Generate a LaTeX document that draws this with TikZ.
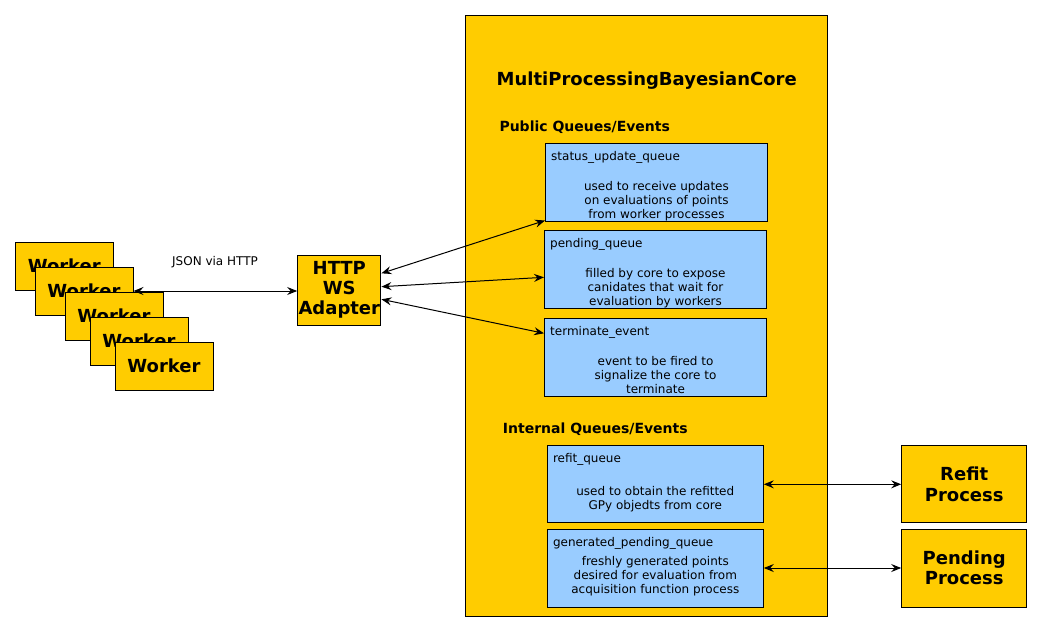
\documentclass[tikz,border=0pt]{standalone}
\usepackage{fontspec}
\setmainfont{DejaVu Sans}
\usepackage{xcolor}
\usetikzlibrary{arrows.meta}
\definecolor{coregold}{HTML}{FFCC00}
\definecolor{queueblue}{HTML}{99CCFF}

\begin{document}
\begin{tikzpicture}[x=1pt, y=-1pt, >={Stealth[length=10pt,width=8pt,inset=3.5pt]},
        bigtext/.style={inner sep=0pt, align=center, font=\fontsize{18}{20.5}\selectfont\bfseries},
        goldbox/.style={bigtext, draw, line width=1pt, fill=coregold},
        queuebox/.style={draw, line width=1pt, fill=queueblue, inner sep=0pt, minimum width=222pt, minimum height=78pt},
        small/.style={inner sep=0pt, align=center, font=\fontsize{12}{14}\selectfont},
        heading/.style={inner sep=0pt, anchor=base west, font=\fontsize{14}{16}\selectfont\bfseries},
        link/.style={line width=1pt, <->}]
        \useasboundingbox (0,0) rectangle (1042,633);
        \node[goldbox, minimum width=362pt, minimum height=601pt] (core) at (646.7,316.2) {};
        \node[bigtext, anchor=base] (title) at (646.7,85) {MultiProcessingBayesianCore};
        \node[heading] (public) at (499.3,131.5) {Public Queues/Events};
        \node[heading] (internal) at (502.7,433.5) {Internal Queues/Events};
        \node[queuebox] (status) at (656.5,182.3) {};
        \node[queuebox] (pending) at (655.5,269) {};
        \node[queuebox] (terminate) at (655.5,357.3) {};
        \node[queuebox, minimum width=216pt, minimum height=77.3pt] (refit) at (655.3,484.3) {};
        \node[queuebox, minimum width=216pt] (genpending) at (655.3,568) {};
        \node[small, anchor=north west] (statusname) at ([xshift=6pt,yshift=-8.3pt]status.north west) {status\_update\_queue};
        \node[small, anchor=north] (statustext) at ([yshift=-38.2pt]status.north) {used to receive updates\\on evaluations of points\\from worker processes};
        \node[small, anchor=north west] (pendingname) at ([xshift=6pt,yshift=-8.3pt]pending.north west) {pending\_queue};
        \node[small, anchor=north] (pendingtext) at ([yshift=-38.5pt]pending.north) {filled by core to expose\\canidates that wait for\\evaluation by workers};
        \node[small, anchor=north west] (terminatename) at ([xshift=6pt,yshift=-8.3pt]terminate.north west) {terminate\_event};
        \node[small, anchor=north] (terminatetext) at ([yshift=-38.8pt]terminate.north) {event to be fired to\\signalize the core to\\terminate};
        \node[small, anchor=north west] (refitname) at ([xshift=6pt,yshift=-8pt]refit.north west) {refit\_queue};
        \node[small, anchor=north] (refittext) at ([yshift=-41pt]refit.north) {used to obtain the refitted\\GPy objedts from core};
        \node[small, anchor=north west] (genpendingname) at ([xshift=6pt,yshift=-8.3pt]genpending.north west) {generated\_pending\_queue};
        \node[small, anchor=north] (genpendingtext) at ([yshift=-27.5pt]genpending.north) {freshly generated points\\desired for evaluation from\\acquisition function process};
        \node[goldbox, minimum width=125pt, minimum height=77.3pt] (refitproc) at (964.2,484.3) {Refit\\Process};
        \node[goldbox, minimum width=125pt, minimum height=78pt] (pendingproc) at (964.2,568) {Pending\\Process};
        \node[goldbox, minimum width=83.3pt, minimum height=70pt, font=\fontsize{18}{20}\selectfont\bfseries] (http) at (339.3,290) {HTTP\\WS\\Adapter};
        \node[goldbox, minimum width=98pt, minimum height=48pt] (worker1) at (64.3,266) {Worker};
        \node[goldbox, minimum width=98pt, minimum height=48pt] (worker2) at (84,291) {Worker};
        \node[goldbox, minimum width=98pt, minimum height=48pt] (worker3) at (114,316) {Worker};
        \node[goldbox, minimum width=98pt, minimum height=48pt] (worker4) at (139,341) {Worker};
        \node[goldbox, minimum width=98pt, minimum height=48pt] (worker5) at (164,366) {Worker};
        \node[small, anchor=base] (json) at (215,265.5) {JSON via HTTP};
        \draw[link] (worker2.east) -- (worker2.east -| http.west);
        \draw[link] ([yshift=16.7pt]http.east) -- ([yshift=1.3pt]status.south west);
        \draw[link] ([yshift=3.3pt]http.east) -- ([yshift=-8.3pt]pending.west);
        \draw[link] ([yshift=-9.3pt]http.east) -- ([yshift=24pt]terminate.west);
        \draw[link] (refit.east) -- (refitproc.west);
        \draw[link] (genpending.east) -- (pendingproc.west);
    \end{tikzpicture}
\end{document}
